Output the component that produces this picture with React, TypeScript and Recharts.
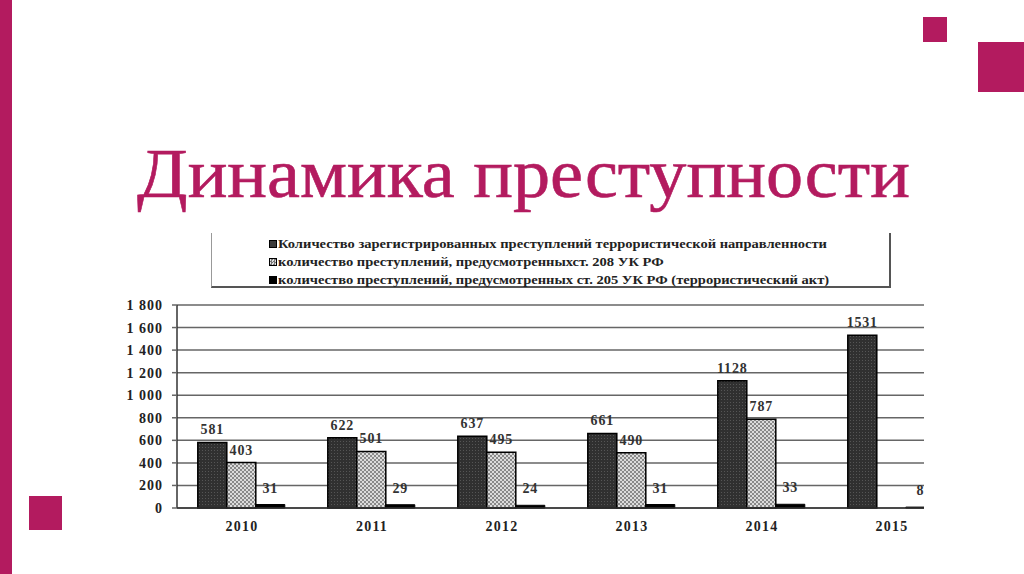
import React from 'react';
import { BarChart, Bar, XAxis, YAxis, CartesianGrid, LabelList, Legend } from 'recharts';

const years = ['2010', '2011', '2012', '2013', '2014', '2015'];
const registered = [581, 622, 637, 661, 1128, 1531];
const art208 = [403, 501, 495, 490, 787, null];
const art205 = [31, 29, 24, 31, 33, 8];
const yTicks = [0, 200, 400, 600, 800, 1000, 1200, 1400, 1600, 1800];
const edgeTicks = [0, 1, 2, 3, 4, 5, 6];
const seriesNames = [
  'Количество зарегистрированных преступлений террористической направленности',
  'количество преступлений, предусмотренныхст. 208 УК РФ',
  'количество преступлений, предусмотренных ст. 205 УК РФ (террористический акт)',
];
const title = 'Динамика преступности';

const data = years.map((y, i) => ({ year: y, a: registered[i], b: art208[i], c: art205[i] }));

const ACCENT = '#b31b5f';
const SERIF = '"Liberation Serif", "Times New Roman", serif';

const markerStyles: React.CSSProperties[] = [
  { background: '#3a3a3a', border: '1px solid #000' },
  { background: 'repeating-conic-gradient(#777 0% 25%, #ddd 0% 50%) 0 0 / 3px 3px', border: '1px solid #000' },
  { background: '#000', border: '1px solid #000' },
];

const fmt = (v: number) => (v >= 1000 ? `${Math.floor(v / 1000)} ${String(v % 1000).padStart(3, '0')}` : String(v));

const LegendBox = () => (
  <div
    style={{
      width: 680,
      height: 55,
      borderLeft: '1px solid #999',
      borderRight: '2px solid #555',
      borderBottom: '2px solid #555',
      boxSizing: 'border-box',
      position: 'relative',
      fontFamily: SERIF,
    }}
  >
    {seriesNames.map((n, i) => (
      <div
        key={i}
        style={{
          position: 'absolute',
          left: 57,
          top: 2 + i * 18,
          height: 18,
          display: 'flex',
          alignItems: 'center',
          whiteSpace: 'nowrap',
        }}
      >
        <span style={{ display: 'inline-block', width: 8, height: 8, boxSizing: 'border-box', ...markerStyles[i] }} />
        <span
          style={{
            display: 'inline-block',
            fontSize: 12,
            fontWeight: 'bold',
            color: '#222',
            marginLeft: 1,
            transform: 'scaleX(1.21)',
            transformOrigin: 'left center',
          }}
        >
          {n}
        </span>
      </div>
    ))}
  </div>
);

const labelStyle = { fontFamily: SERIF, fontSize: 14, fontWeight: 'bold' as const, fill: '#333', letterSpacing: 0.8 };

export default function App() {
  return (
    <div style={{ position: 'absolute', left: 0, top: 0, width: 1024, height: 574, overflow: 'hidden', background: '#fff' }}>
      <svg width={1024} height={574} style={{ position: 'absolute', left: 0, top: 0 }}>
        <rect x={0} y={0} width={12} height={574} fill={ACCENT} />
        <rect x={923} y={17} width={24} height={25} fill={ACCENT} />
        <rect x={978} y={42} width={46} height={50} fill={ACCENT} />
        <rect x={29} y={496} width={33} height={34} fill={ACCENT} />
        <text
          x={137}
          y={197}
          fontFamily={SERIF}
          fontSize={70}
          fill={ACCENT}
          stroke={ACCENT}
          strokeWidth={0.6}
          textLength={773}
          lengthAdjust="spacingAndGlyphs"
        >
          {title}
        </text>
      </svg>
      <div style={{ position: 'absolute', left: 100, top: 225, width: 824, height: 320, overflow: 'hidden' }}>
        <BarChart
          width={900}
          height={320}
          data={data}
          margin={{ top: 25, right: 43, bottom: 3, left: 17 }}
          barCategoryGap="16%"
          barGap={0}
        >
          <defs>
            <pattern id="pDark" width="3" height="3" patternUnits="userSpaceOnUse">
              <rect width="3" height="3" fill="#303030" />
              <rect width="1" height="1" fill="#555" />
            </pattern>
            <pattern id="pCheck" width="4" height="4" patternUnits="userSpaceOnUse">
              <rect width="4" height="4" fill="#dcdcdc" />
              <rect width="2" height="2" fill="#8a8a8a" />
              <rect x="2" y="2" width="2" height="2" fill="#8a8a8a" />
            </pattern>
          </defs>
          <CartesianGrid vertical={false} stroke="#666" strokeWidth={1.5} />
          <XAxis
            xAxisId="edges"
            type="number"
            dataKey="none"
            domain={[0, 6]}
            ticks={edgeTicks}
            allowDataOverflow
            height={0}
            tick={false}
            axisLine={false}
            tickSize={5}
            tickLine={{ stroke: '#333', strokeWidth: 1.5 }}
          />
          <XAxis
            dataKey="year"
            height={34}
            tickLine={false}
            axisLine={{ stroke: '#333', strokeWidth: 1.5 }}
            tickMargin={7}
            tick={{ fontFamily: SERIF, fontSize: 14, fontWeight: 'bold', fill: '#222', letterSpacing: 1.2 }}
          />
          <YAxis
            width={60}
            domain={[0, 1800]}
            ticks={yTicks}
            interval={0}
            tickFormatter={fmt}
            tickSize={5}
            tickMargin={9}
            axisLine={{ stroke: '#333', strokeWidth: 1.5 }}
            tickLine={{ stroke: '#666', strokeWidth: 1.5 }}
            tick={{ fontFamily: SERIF, fontSize: 14, fontWeight: 'bold', fill: '#222', letterSpacing: 1 }}
          />
          <Legend
            verticalAlign="top"
            content={() => <LegendBox />}
            wrapperStyle={{ position: 'absolute', left: 111, top: 8, width: 680, height: 55 }}
          />
          <Bar dataKey="a" name={seriesNames[0]} fill="url(#pDark)" stroke="#000" strokeWidth={1.5} isAnimationActive={false}>
            <LabelList dataKey="a" position="top" offset={8} style={labelStyle} />
          </Bar>
          <Bar dataKey="b" name={seriesNames[1]} fill="url(#pCheck)" stroke="#000" strokeWidth={1.5} isAnimationActive={false}>
            <LabelList dataKey="b" position="top" offset={8} style={labelStyle} />
          </Bar>
          <Bar dataKey="c" name={seriesNames[2]} fill="#000" stroke="#000" strokeWidth={1} isAnimationActive={false}>
            <LabelList dataKey="c" position="top" offset={12} style={labelStyle} />
          </Bar>
        </BarChart>
      </div>
    </div>
  );
}
